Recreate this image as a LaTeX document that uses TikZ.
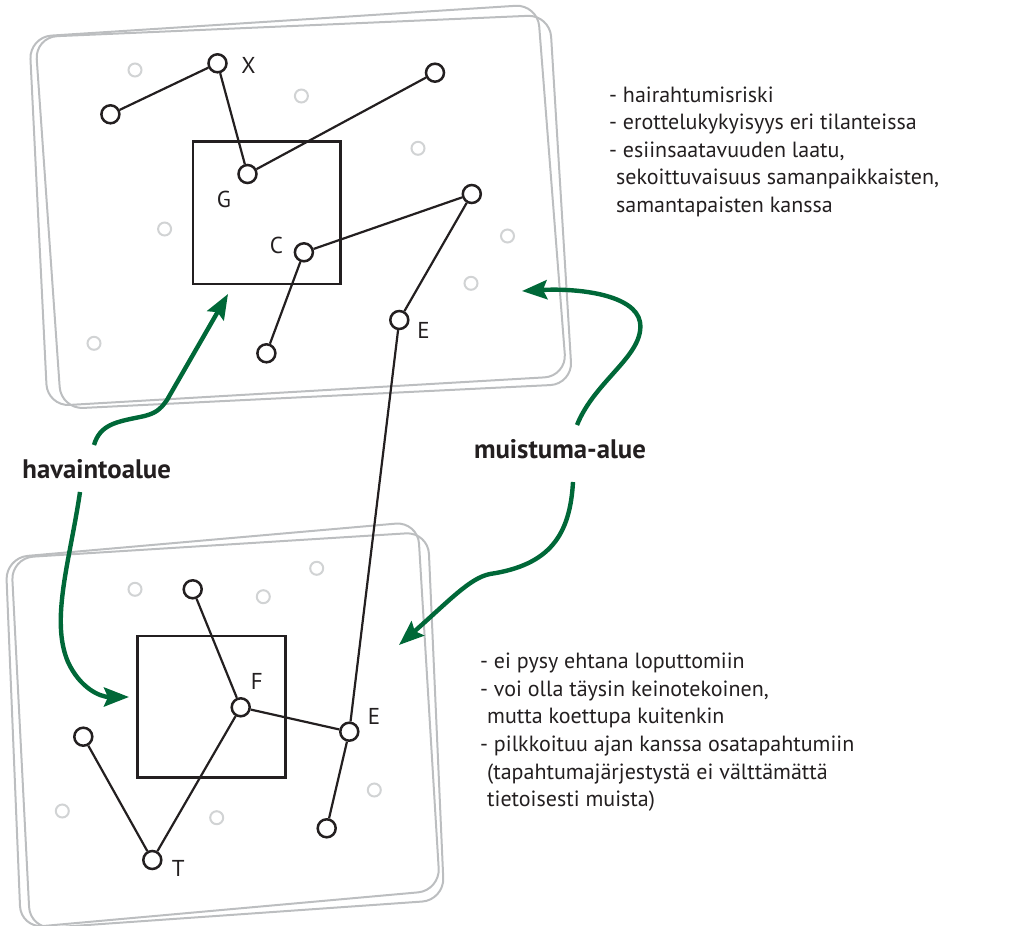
\documentclass[tikz,border=0pt]{standalone}
\usepackage{fontspec}
\setmainfont{PT Sans}
\usetikzlibrary{arrows.meta}
\definecolor{ink}{RGB}{35,31,32}
\definecolor{panel}{RGB}{188,190,192}
\definecolor{dot}{RGB}{209,211,212}
\definecolor{arrowgreen}{RGB}{0,104,56}
\begin{document}
\begin{tikzpicture}[x=1pt,y=-1pt,
  panelline/.style={draw=panel,line width=2pt,rounded corners=22pt},
  nd/.style={circle,draw=ink,fill=white,line width=2.5pt,minimum size=18pt,inner sep=0pt},
  gd/.style={circle,draw=dot,line width=2pt,minimum size=13pt,inner sep=0pt},
  link/.style={draw=ink,line width=2.2pt},
  frame/.style={draw=ink,line width=2.5pt},
  lbl/.style={font=\fontsize{23}{23}\selectfont,text=ink,inner sep=0pt},
  body/.style={font=\fontsize{22}{27.6}\selectfont,text=ink,inner sep=0pt,align=left},
  tag/.style={font=\bfseries\fontsize{26.8}{26.8}\selectfont,text=ink,inner sep=0pt},
  pointer/.style={draw=arrowgreen,line width=4.4pt,-{Stealth[length=25pt,width=19pt,inset=4pt]}}
]
\useasboundingbox (0,0) rectangle (1026,926);

% ---- top panel outlines
\draw[panelline] (29.4,37) -- (537.5,4.4) -- (566.5,376.1) -- (47.5,406.2) -- cycle;
\draw[panelline] (35.2,37.1) -- (549.8,14.9) -- (572.3,384) -- (61.2,409) -- cycle;
% ---- bottom panel outlines
\draw[panelline] (5.7,557.8) -- (417.7,521.7) -- (440,890.4) -- (20.9,928) -- cycle;
\draw[panelline] (11.3,558) -- (428,532) -- (444.2,900) -- (30.2,929) -- cycle;

% ---- squares
\draw[frame] (193.2,141.7) rectangle (340.7,284);
\draw[frame] (137.3,636) rectangle (285.3,777.7);

% ---- grey dots top
\node[gd] (gt1) at (135,70) {};
\node[gd] (gt2) at (301.4,96) {};
\node[gd] (gt3) at (418,148.3) {};
\node[gd] (gt4) at (164.6,229) {};
\node[gd] (gt5) at (507.5,236) {};
\node[gd] (gt6) at (471,283.3) {};
\node[gd] (gt7) at (94,343.3) {};
% ---- grey dots bottom
\node[gd] (gb1) at (135,589.3) {};
\node[gd] (gb2) at (263.3,596.7) {};
\node[gd] (gb3) at (316.7,568.3) {};
\node[gd] (gb4) at (62.3,811) {};
\node[gd] (gb5) at (216.7,817.7) {};
\node[gd] (gb6) at (374.3,790) {};

% ---- top nodes
\node[nd] (a1) at (110.4,114.3) {};
\node[nd] (X) at (217.5,63.3) {};
\node[nd] (G) at (247.5,174) {};
\node[nd] (a2) at (435,72.7) {};
\node[nd] (C) at (303.9,252.3) {};
\node[nd] (a3) at (266.4,353.3) {};
\node[nd] (a4) at (471.8,194) {};
\node[nd] (Et) at (399.3,320) {};
% ---- bottom nodes
\node[nd] (b1) at (192.7,589.3) {};
\node[nd] (F) at (240.7,707.3) {};
\node[nd] (Eb) at (349.3,731.7) {};
\node[nd] (b2) at (83.3,736.7) {};
\node[nd] (T) at (152.3,860) {};
\node[nd] (b3) at (326.7,828.3) {};

% ---- links
\draw[link] (a1) -- (X);
\draw[link] (X) -- (G);
\draw[link] (G) -- (a2);
\draw[link] (C) -- (a4);
\draw[link] (C) -- (a3);
\draw[link] (a4) -- (Et);
\draw[link] (Et) -- (Eb);
\draw[link] (b1) -- (F);
\draw[link] (F) -- (Eb);
\draw[link] (F) -- (T);
\draw[link] (b2) -- (T);
\draw[link] (Eb) -- (b3);

% ---- node letters
\node[lbl] (lX) at (248.6,65) {X};
\node[lbl] (lG) at (224,199.3) {G};
\node[lbl] (lC) at (276.4,245) {C};
\node[lbl] (lEt) at (423.6,330) {E};
\node[lbl] (lF) at (256.7,681.7) {F};
\node[lbl] (lEb) at (374,716.7) {E};
\node[lbl] (lT) at (178.3,868.3) {T};

% ---- region labels
\node[tag,anchor=base] (hav) at (96.7,478) {havaintoalue};
\node[tag,anchor=base] (mui) at (560,458.3) {muistuma-alue};

% ---- text blocks
\node[body,anchor=north west] (txt1) at (609,86.3) {- hairahtumisriski\\- erottelukykyisyys eri tilanteissa\\- esiinsaatavuuden laatu,\\\hspace*{7pt}sekoittuvaisuus samanpaikkaisten,\\\hspace*{7pt}samantapaisten kanssa};
\node[body,anchor=north west] (txt2) at (480,652.9) {- ei pysy ehtana loputtomiin\\- voi olla täysin keinotekoinen,\\\hspace*{7pt}mutta koettupa kuitenkin\\- pilkkoituu ajan kanssa osatapahtumiin\\\hspace*{7pt}(tapahtumajärjestystä ei välttämättä\\\hspace*{7pt}tietoisesti muista)};

% ---- green arrows
\coordinate (h1s) at (94,445);
\coordinate (h1e) at (228,294);
\coordinate (h2s) at (80,492);
\coordinate (h2e) at (129,697);
\coordinate (m1s) at (577,425);
\coordinate (m1e) at (522,291);
\coordinate (m2s) at (573,482);
\coordinate (m2e) at (399,645);
\draw[pointer] (h1s) .. controls (100,425) and (115,422) .. (140,417) .. controls (155,414) and (160,410) .. (167,400) -- (h1e);
\draw[pointer] (h2s) .. controls (70,560) and (50,620) .. (68,662) .. controls (80,688) and (100,697) .. (h2e);
\draw[pointer] (m1s) .. controls (595,380) and (645,355) .. (640,322) .. controls (635,295) and (580,288) .. (m1e);
\draw[pointer] (m2s) .. controls (570,535) and (550,565) .. (490,574) .. controls (470,578) and (450,600) .. (m2e);
\end{tikzpicture}
\end{document}
